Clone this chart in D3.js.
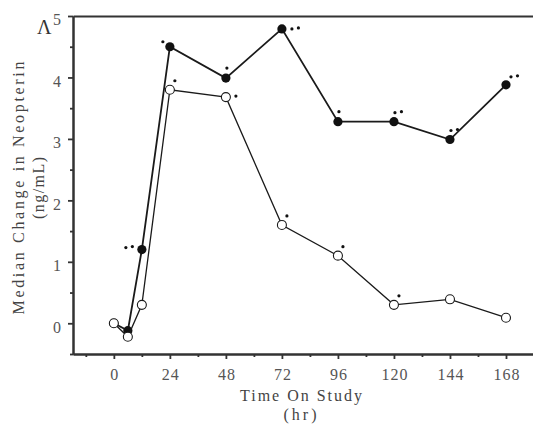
<!DOCTYPE html>
<html>
<head>
<meta charset="utf-8">
<script src="https://cdnjs.cloudflare.com/ajax/libs/d3/7.8.5/d3.min.js"></script>
<style>
  body { margin: 0; background: #fff; }
  text { font-family: "Liberation Serif", "DejaVu Serif", serif; fill: #444; }
  .axis path, .axis line { stroke: #333; }
  .axis text { font-size: 16px; fill: #555; font-family: "Liberation Serif", serif; letter-spacing: 1px; }
</style>
</head>
<body>
<script>
// hours sampled
var hours = [0, 6, 12, 24, 48, 72, 96, 120, 144, 168];
// median change, filled-circle series
var filledVals = [0, -0.12, 1.2, 4.5, 3.99, 4.79, 3.28, 3.28, 2.99, 3.88];
// median change, open-circle series
var openVals = [0, -0.22, 0.3, 3.8, 3.68, 1.6, 1.1, 0.3, 0.39, 0.09];

// significance marks: number of dots per point, and which side they sit on
var filledMarks = [0, 0, 2, 1, 1, 2, 1, 2, 2, 2];
var filledSides = ["", "", "left", "upleft", "up", "right", "up", "up", "up", "upright"];
var openMarks = [0, 0, 0, 1, 1, 1, 1, 1, 0, 0];
var openSides = ["", "", "", "upright", "right", "upright", "upright", "upright", "", ""];

var xMajor = [0, 24, 48, 72, 96, 120, 144, 168];
var xMinor = [-12, 12, 36, 60, 84, 108, 132, 156, 180];
var yMajor = [0, 1, 2, 3, 4, 5];
var yMinor = [-0.5, 0.5, 1.5, 2.5, 3.5, 4.5];

var w = 533, h = 426;

var svg = d3.select("body").append("svg")
    .attr("width", w)
    .attr("height", h);

var x = d3.scaleLinear().domain([-17.5, 180]).range([73, 534]);
var y = d3.scaleLinear().domain([-0.5, 5]).range([354, 16]);

// minor ticks first
svg.append("g")
    .attr("class", "axis")
    .attr("transform", "translate(0," + y(-0.5) + ")")
    .call(d3.axisBottom(x).tickValues(xMinor).tickFormat("").tickSize(3).tickSizeOuter(0));

svg.append("g")
    .attr("class", "axis")
    .attr("transform", "translate(" + x(-17.5) + ",0)")
    .call(d3.axisLeft(y).tickValues(yMinor).tickFormat("").tickSize(3).tickSizeOuter(0));

// major ticks
var xAxis = svg.append("g")
    .attr("class", "axis")
    .attr("transform", "translate(0," + y(-0.5) + ")")
    .call(d3.axisBottom(x).tickValues(xMajor).tickFormat(d3.format("d"))
        .tickSize(5).tickSizeOuter(0).tickPadding(10));

var yAxis = svg.append("g")
    .attr("class", "axis")
    .attr("transform", "translate(" + x(-17.5) + ",0)")
    .call(d3.axisLeft(y).tickValues(yMajor).tickFormat(d3.format("d"))
        .tickSize(5).tickSizeOuter(0).tickPadding(6));

// top frame line
var topLine = svg.append("g")
    .attr("class", "axis")
    .attr("transform", "translate(0," + y(5) + ")")
    .call(d3.axisTop(x).tickValues([]).tickSizeOuter(0));

svg.selectAll(".axis path").style("stroke-width", 2);
svg.selectAll(".axis line").style("stroke-width", 1.8);
xAxis.selectAll("text").attr("dx", "0.5px");
yAxis.selectAll("text").attr("dy", "0.55em");

var line = d3.line()
    .x(function(d){ return x(d.hr); })
    .y(function(d){ return y(d.v); });

var filled = hours.map(function(hr, i){
    return { hr: hr, v: filledVals[i], n: filledMarks[i], side: filledSides[i] };
});
var open = hours.map(function(hr, i){
    return { hr: hr, v: openVals[i], n: openMarks[i], side: openSides[i] };
});

svg.append("path")
    .datum(filled)
    .attr("d", line)
    .style("fill", "none")
    .style("stroke", "#1a1a1a")
    .style("stroke-width", 1.8);

svg.selectAll(".filledPt")
    .data(filled)
    .enter()
    .append("circle")
    .attr("class", "filledPt")
    .attr("cx", function(d){ return x(d.hr); })
    .attr("cy", function(d){ return y(d.v); })
    .attr("r", 4.6)
    .style("fill", "#111");

svg.append("path")
    .datum(open)
    .attr("d", line)
    .style("fill", "none")
    .style("stroke", "#1a1a1a")
    .style("stroke-width", 1.3);

svg.selectAll(".openPt")
    .data(open)
    .enter()
    .append("circle")
    .attr("class", "openPt")
    .attr("cx", function(d){ return x(d.hr); })
    .attr("cy", function(d){ return y(d.v); })
    .attr("r", 4.5)
    .style("fill", "#fff")
    .style("stroke", "#1a1a1a")
    .style("stroke-width", 1.1);

// where the little significance dots go, relative to the point
var offsets = {
    left: [-16, -3],
    upleft: [-7, -5],
    up: [1, -10],
    upright: [5, -9],
    right: [10, -1]
};

function addMarks(data){
    data.forEach(function(d){
        for (var k = 0; k < d.n; k++) {
            var o = offsets[d.side];
            svg.append("circle")
                .attr("cx", x(d.hr) + o[0] + k * 6.5)
                .attr("cy", y(d.v) + o[1] + (k == 0 && d.n == 2 ? 1 : 0))
                .attr("r", 1.6)
                .style("fill", "#111");
        }
    });
}
addMarks(filled);
addMarks(open);

// axis titles
svg.append("text")
    .attr("transform", "translate(18,188) rotate(-90)")
    .attr("text-anchor", "middle")
    .attr("dominant-baseline", "central")
    .attr("textLength", 253)
    .attr("lengthAdjust", "spacing")
    .style("font-size", "16px")
    .text("Median Change in Neopterin");

svg.append("text")
    .attr("transform", "translate(38,188) rotate(-90)")
    .attr("text-anchor", "middle")
    .attr("dominant-baseline", "central")
    .attr("textLength", 62)
    .attr("lengthAdjust", "spacing")
    .style("font-size", "16px")
    .text("(ng/mL)");

svg.append("text")
    .attr("x", 301)
    .attr("y", 401)
    .attr("text-anchor", "middle")
    .attr("textLength", 122)
    .attr("lengthAdjust", "spacing")
    .style("font-size", "16px")
    .text("Time On Study");

svg.append("text")
    .attr("x", 300)
    .attr("y", 420)
    .attr("text-anchor", "middle")
    .attr("textLength", 33)
    .attr("lengthAdjust", "spacing")
    .style("font-size", "16px")
    .text("(hr)");

// panel letter
svg.append("text")
    .attr("x", 37)
    .attr("y", 34)
    .style("font-size", "20px")
    .style("fill", "#333")
    .text("Λ");
</script>
</body>
</html>
